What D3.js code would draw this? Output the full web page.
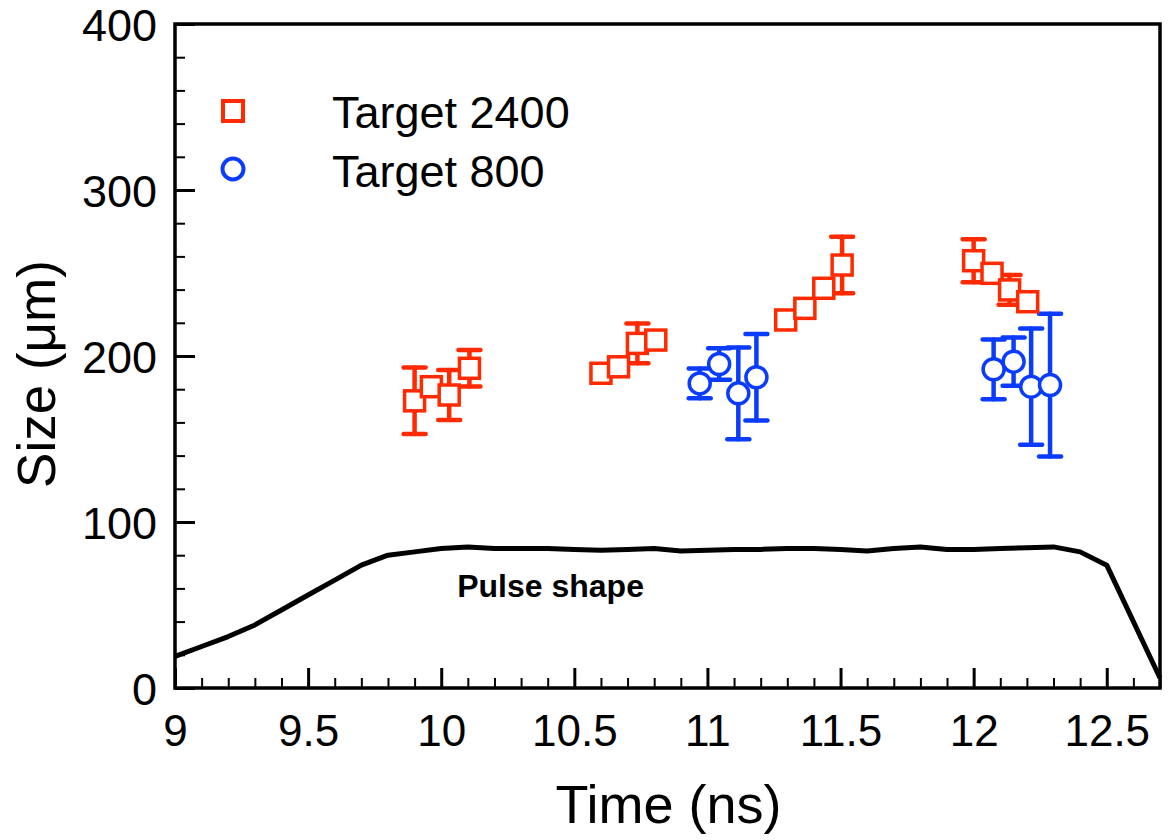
<!DOCTYPE html>
<html>
<head>
<meta charset="utf-8">
<script src="https://cdn.jsdelivr.net/npm/d3@7"></script>
<style>
  html, body { margin: 0; padding: 0; background: #fff; }
  svg { display: block; font-family: "Liberation Sans", Arial, Helvetica, sans-serif; }
</style>
</head>
<body>
<svg id="chart" width="1172" height="840"></svg>
<script>
// ---- data ----
const t2400Time  = [9.90, 9.963, 10.03, 10.106, 10.60, 10.666, 10.737, 10.806, 11.294, 11.366, 11.437, 11.506, 12.00, 12.069, 12.135, 12.203];
const t2400Size  = [173, 181.5, 176.5, 192.6, 189.6, 193.5, 207.6, 209.6, 221.7, 228.7, 240.8, 254.8, 257.4, 249.8, 239.8, 232.7];
const t2400Err   = [20, 0, 15, 11, 0, 0, 12, 0, 0, 0, 0, 17, 13, 0, 9, 0];

const t800Time   = [10.971, 11.044, 11.116, 11.184, 12.075, 12.15, 12.216, 12.287];
const t800Size   = [183.5, 195.2, 177.5, 187.2, 192, 196.6, 181.5, 182.5];
const t800Err    = [9, 9.5, 27.6, 26, 18, 14.5, 35, 43];

const pulseTime  = [9.0, 9.1, 9.2, 9.3, 9.4, 9.5, 9.6, 9.7, 9.8, 9.9, 10.0, 10.1, 10.2, 10.3, 10.4, 10.5, 10.6, 10.7, 10.8, 10.9, 11.0, 11.1, 11.2, 11.3, 11.4, 11.5, 11.6, 11.7, 11.8, 11.9, 12.0, 12.1, 12.2, 12.3, 12.4, 12.5, 12.7];
const pulseValue = [19, 25, 31, 38, 47, 56, 65, 74, 80, 82, 84, 85, 84, 84, 84, 83.5, 83, 83.5, 84, 82.5, 83, 83.5, 83.5, 84, 84, 83.5, 82.5, 84, 85, 83.5, 83.5, 84, 84.5, 85, 82, 74, 6];

const xMajorTicks = [9, 9.5, 10, 10.5, 11, 11.5, 12, 12.5];
const yMajorTicks = [0, 100, 200, 300, 400];
const seriesNames = ["Target 2400", "Target 800"];

// ---- layout ----
const RED = "#ff2a00", BLUE = "#0a3cff";
const pL = 175, pR = 1160, pT = 24, pB = 688;
const svg = d3.select("#chart");

const x = d3.scaleLinear().domain([9, 12.7]).range([pL, pR]);
const y = d3.scaleLinear().domain([0, 400]).range([pB, pT]);

const xMinor = d3.range(90, 128).map(v => v / 10).filter(v => !xMajorTicks.some(m => Math.abs(m - v) < 1e-9));
const yMinor = d3.range(0, 401, 20).filter(v => v % 100 !== 0);

// minor ticks
svg.append("g").attr("transform", `translate(0,${pB})`)
  .call(d3.axisBottom(x).tickValues(xMinor).tickSize(-10).tickFormat(""))
  .call(g => g.select(".domain").remove())
  .call(g => g.selectAll("line").attr("stroke", "#000").attr("stroke-width", 2));
svg.append("g").attr("transform", `translate(${pL},0)`)
  .call(d3.axisLeft(y).tickValues(yMinor).tickSize(-10).tickFormat(""))
  .call(g => g.select(".domain").remove())
  .call(g => g.selectAll("line").attr("stroke", "#000").attr("stroke-width", 2));

// major ticks + labels
svg.append("g").attr("transform", `translate(0,${pB})`)
  .call(d3.axisBottom(x).tickValues(xMajorTicks).tickSize(-20).tickPadding(27).tickFormat(d => String(d)))
  .call(g => g.select(".domain").remove())
  .call(g => g.selectAll("line").attr("stroke", "#000").attr("stroke-width", 3))
  .call(g => g.selectAll("text").attr("fill", "#000").style("font-size", "44px").style("font-family", "Liberation Sans, Arial, sans-serif"));
svg.append("g").attr("transform", `translate(${pL},0)`)
  .call(d3.axisLeft(y).tickValues(yMajorTicks).tickSize(-20).tickPadding(18).tickFormat(d => String(d)))
  .call(g => g.select(".domain").remove())
  .call(g => g.selectAll("line").attr("stroke", "#000").attr("stroke-width", 3))
  .call(g => g.selectAll("text").attr("fill", "#000").attr("dy", "0.36em").style("font-size", "45px").style("font-family", "Liberation Sans, Arial, sans-serif"));

// pulse shape
const line = d3.line().x((d, i) => x(pulseTime[i])).y(d => y(d));
svg.append("path").datum(pulseValue)
  .attr("d", line).attr("fill", "none").attr("stroke", "#000")
  .attr("stroke-width", 5).attr("stroke-linejoin", "round");

svg.append("text").attr("x", x(10.06)).attr("y", 597)
  .attr("font-weight", "bold").attr("font-size", 32).text("Pulse shape");

// frame
svg.append("rect").attr("x", pL).attr("y", pT)
  .attr("width", pR - pL).attr("height", pB - pT)
  .attr("fill", "none").attr("stroke", "#000").attr("stroke-width", 3.5);

// error bars
function errorBars(times, sizes, errs, color) {
  const g = svg.append("g").attr("stroke", color).attr("stroke-width", 4.5).attr("stroke-linecap", "round");
  times.forEach((t, i) => {
    if (!errs[i]) return;
    const cx = x(t), y1 = y(sizes[i] + errs[i]), y2 = y(sizes[i] - errs[i]);
    g.append("line").attr("x1", cx).attr("x2", cx).attr("y1", y1).attr("y2", y2);
    g.append("line").attr("x1", cx - 11).attr("x2", cx + 11).attr("y1", y1).attr("y2", y1);
    g.append("line").attr("x1", cx - 11).attr("x2", cx + 11).attr("y1", y2).attr("y2", y2);
  });
}
errorBars(t2400Time, t2400Size, t2400Err, RED);
errorBars(t800Time, t800Size, t800Err, BLUE);

// markers
const S = 20;
svg.append("g").selectAll("rect").data(t2400Time).join("rect")
  .attr("x", d => x(d) - S / 2).attr("y", (d, i) => y(t2400Size[i]) - S / 2)
  .attr("width", S).attr("height", S)
  .attr("fill", "#fff").attr("stroke", RED).attr("stroke-width", 3.5);
svg.append("g").selectAll("circle").data(t800Time).join("circle")
  .attr("cx", d => x(d)).attr("cy", (d, i) => y(t800Size[i])).attr("r", 10.5)
  .attr("fill", "#fff").attr("stroke", BLUE).attr("stroke-width", 3.5);

// legend
svg.append("rect").attr("x", 233 - S / 2).attr("y", 111 - S / 2).attr("width", S).attr("height", S)
  .attr("fill", "#fff").attr("stroke", RED).attr("stroke-width", 4);
svg.append("circle").attr("cx", 233).attr("cy", 169).attr("r", 10.5)
  .attr("fill", "#fff").attr("stroke", BLUE).attr("stroke-width", 4);
svg.append("text").attr("x", 332).attr("y", 128).attr("font-size", 45).text(seriesNames[0]);
svg.append("text").attr("x", 332).attr("y", 187).attr("font-size", 45).text(seriesNames[1]);

// axis titles
svg.append("text").attr("x", (pL + pR) / 2 + 1).attr("y", 823)
  .attr("text-anchor", "middle").attr("font-size", 54).text("Time (ns)");
svg.append("text").attr("transform", "translate(55,374) rotate(-90)")
  .attr("text-anchor", "middle").attr("font-size", 53).text("Size (μm)");
</script>
</body>
</html>
